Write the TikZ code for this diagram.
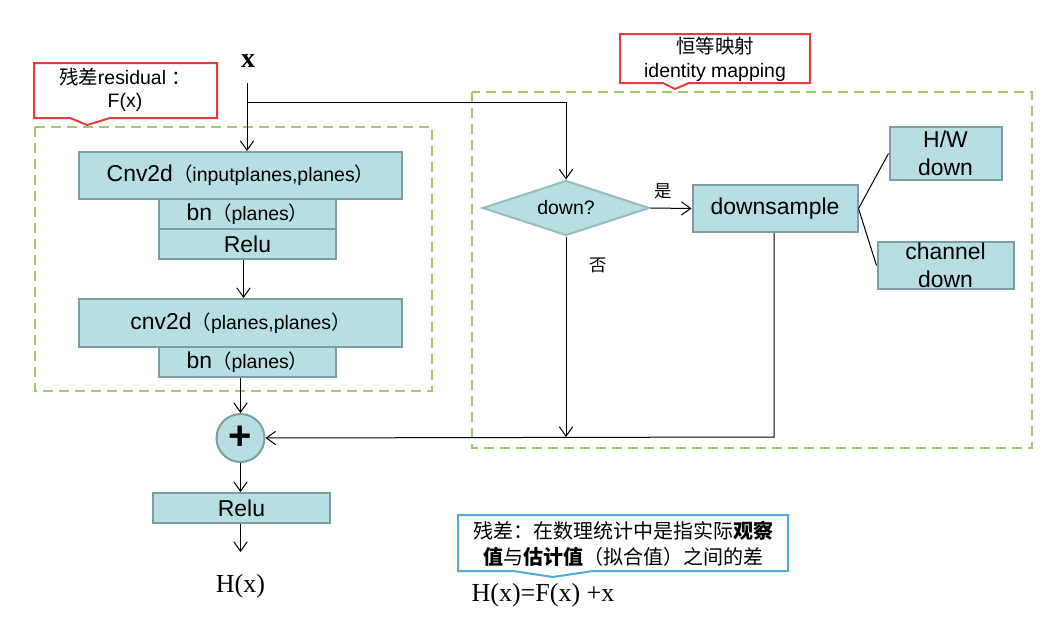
\documentclass[tikz,border=0pt]{standalone}
\usepackage{fontspec}
\setmainfont{Liberation Sans}
\newfontfamily\cjk{Noto Sans CJK SC}
\newfontfamily\tnr{Liberation Serif}
\usetikzlibrary{shapes.geometric,arrows.meta,calc}
\definecolor{boxfill}{RGB}{183,222,226}
\definecolor{boxline}{RGB}{122,158,162}
\definecolor{dmline}{RGB}{150,188,192}
\definecolor{dashgreen}{RGB}{155,203,106}
\definecolor{callred}{RGB}{228,60,60}
\definecolor{callblue}{RGB}{80,170,220}
\newcommand\fbig{\fontsize{17.2}{21}\selectfont}
\newcommand\fsml{\fontsize{14.6}{17}\selectfont}
\begin{document}
\begin{tikzpicture}[x=0.75pt,y=-0.75pt,
  blk/.style 2 args={draw=boxline,fill=boxfill,line width=1.5pt,inner sep=0pt,
    minimum width=#1*0.75pt,minimum height=#2*0.75pt,font=\fbig,align=center},
  arr/.style={-{Straight Barb[length=7pt,width=10pt]},line width=0.75pt},
  ln/.style={line width=0.75pt},
  grp/.style={draw=dashgreen,line width=1.5pt,dash pattern=on 7.5pt off 4.5pt},
  callr/.style={draw=callred,line width=1.5pt,fill=white},
  callb/.style={draw=callblue,line width=1.5pt,fill=white}]
\useasboundingbox (0,0) rectangle (1060,628);

% dashed groups
\draw[grp] (35,127) rectangle (432,391);
\draw[grp] (472,92) rectangle (1032,448);

% callouts
\draw[callr] (34,63) -- (217,63) -- (217,118) -- (110,118) -- (87,125) -- (70,118) -- (34,118) -- cycle;
\node[font=\fsml,align=center] (cres) at (125,90) {{\cjk 残差}residual {\cjk ：}\\F(x)};
\draw[callr] (620,34) -- (810,34) -- (810,83) -- (689,83) -- (675,89) -- (663,83) -- (620,83) -- cycle;
\node[font=\fontsize{14.6}{18}\selectfont,align=center] (cid) at (715,59) {{\cjk 恒等映射}\\identity mapping};
\draw[callb] (458,515) -- (788,515) -- (788,571) -- (593,571) -- (553,577) -- (513,571) -- (458,571) -- cycle;
\node[align=center,font=\cjk\fontsize{15}{19.5}\selectfont] (cblue) at (623,544)
  {残差：在数理统计中是指实际\textbf{观察}\\\textbf{值}与\textbf{估计值}（拟合值）之间的差};
\node[font=\tnr\fontsize{19.5}{22}\selectfont] (hf) at (543,595) {H(x)=F(x) +x};

% input
\node[font=\tnr\bfseries\fontsize{21}{22}\selectfont] (xin) at (248,61) {x};
\coordinate (xtop) at (247,83);
\coordinate (br) at (247,102);

% residual branch
\node[blk={323}{47}] (c1) at (240.5,175.5) {Cnv2d{\fsml\cjk （}{\fsml inputplanes,planes}{\fsml\cjk ）}};
\node[blk={177}{30}] (bn1) at (247.5,214) {bn{\fsml\cjk （}{\fsml planes}{\fsml\cjk ）}};
\node[blk={177}{30}] (relu1) at (247.5,244) {Relu};
\node[blk={323}{48}] (c2) at (240.5,323) {cnv2d{\fsml\cjk （}{\fsml planes,planes}{\fsml\cjk ）}};
\node[blk={177}{30}] (bn2) at (247.5,362) {bn{\fsml\cjk （}{\fsml planes}{\fsml\cjk ）}};
\node[circle,draw=boxline,fill=boxfill,line width=1.5pt,inner sep=0pt,minimum size=48*0.75pt,
  font=\bfseries\fontsize{30}{30}\selectfont] (plus) at (240.5,438) {+};
\node[blk={177}{30}] (relu2) at (241.5,508) {Relu};
\coordinate (hxtop) at (240.5,552);
\node[font=\tnr\fontsize{19.5}{22}\selectfont] (hx) at (240.5,586) {H(x)};

% identity branch
\node[diamond,draw=dmline,fill=boxfill,line width=1.5pt,inner sep=0pt,aspect=3,
  minimum width=167*0.75pt,minimum height=55*0.75pt,font=\fsml] (dn) at (566,208) {down?};
\node[blk={165}{47}] (ds) at (775,208.5) {downsample};
\node[blk={112}{53}] (hw) at (945.5,153.5) {\fontsize{17.2}{21.5}\selectfont H/W\\down};
\node[blk={136}{47}] (ch) at (945.5,265.5) {\fontsize{17.2}{20.5}\selectfont channel\\down};
\coordinate (join) at (566,437);
\coordinate (dsb) at (774,437);

% connectors
\draw[arr] (xtop) -- (xtop |- c1.north);
\draw[arr] (br) -| (dn.north);
\draw[arr] ($(relu1.south)+(-4,0)$) -- ($(relu1.south |- c2.north)+(-4,0)$);
\draw[arr] (plus.north |- bn2.south) -- (plus.north);
\draw[arr] (plus.south) -- (plus.south |- relu2.north);
\draw[arr] (relu2.south -| hxtop) -- (hxtop);
\draw[arr] (dn.east) -- (ds.west);
\node[font=\cjk\fontsize{13}{14}\selectfont] (yes) at (663,191) {是};
\draw[arr] (dn.south) -- (join);
\draw[arr] (ds.south -| dsb) -- (dsb) -- (plus.east);
\draw[ln] (ds.east) -- (hw.west);
\draw[ln] (ds.east) -- (ch.west);
\node[font=\cjk\fontsize{13}{14}\selectfont] (no) at (598,265) {否};
\end{tikzpicture}
\end{document}
